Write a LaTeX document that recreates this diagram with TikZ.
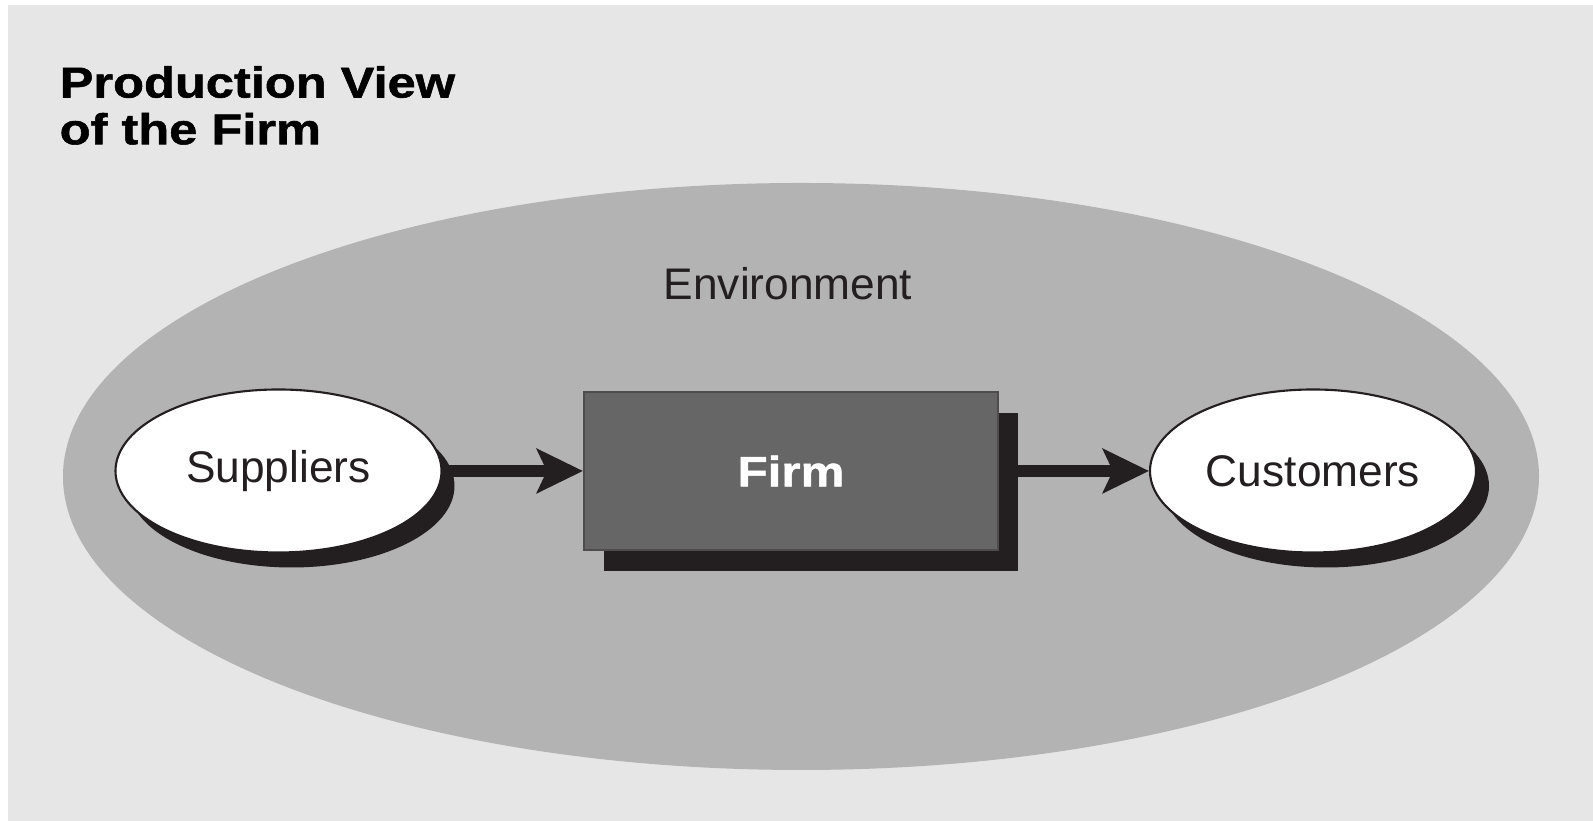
\documentclass[tikz,border=0pt]{standalone}
\usepackage{fontspec}
\setmainfont{Liberation Sans}
\newfontfamily\headfont[FakeStretch=1.17,BoldFeatures={FakeBold=1.2}]{Liberation Sans}
\usetikzlibrary{arrows.meta,shadows,shapes.geometric}

\definecolor{paper}{RGB}{230,230,230}
\definecolor{envgray}{RGB}{179,179,179}
\definecolor{firmgray}{RGB}{102,102,102}
\definecolor{ink}{RGB}{35,31,32}

\tikzset{
	party/.style={ellipse,draw=ink,line width=0.6pt,fill=white,text=ink,
		minimum width=3.26cm,minimum height=1.63cm,inner sep=0pt,
		font=\fontsize{12.6}{14}\selectfont,
		drop shadow={shadow xshift=0.13cm,shadow yshift=-0.15cm,fill=ink,opacity=1}},
	flow/.style={draw=ink,line width=0.12cm,
		-{Stealth[length=0.46cm,width=0.44cm,inset=0.1cm]}}
}

\begin{document}
\begin{tikzpicture}
	\useasboundingbox (0,0) rectangle (15.93,8.21);
	\fill[paper] (0.08,0) rectangle (15.93,8.16);
	\fill[envgray] (8.01,3.445) ellipse (7.38 and 2.935);
	% title and environment label
	\node[anchor=north west,inner sep=0pt,align=left,text=black,
		font=\headfont\bfseries\fontsize{12.3}{13.3}\selectfont] (title) at (0.59,7.555)
		{Production View\\of the Firm};
	\node[text=ink,font=\fontsize{12.6}{14}\selectfont] (env) at (7.88,5.375) {Environment};
	% the firm and its neighbours
	\node[rectangle,draw=ink!80,line width=0.6pt,fill=firmgray,text=white,
		minimum width=4.14cm,minimum height=1.58cm,
		font=\headfont\bfseries\fontsize{12}{14}\selectfont,
		drop shadow={shadow xshift=0.2cm,shadow yshift=-0.21cm,fill=ink,opacity=1}]
		(firm) at (7.91,3.5) {Firm};
	\node[party] (sup) at (2.785,3.5) {Suppliers};
	\node[party] (cust) at (13.13,3.5) {Customers};
	\draw[flow] (sup.east) -- (firm.west);
	\draw[flow] (firm.east) -- (cust.west);
\end{tikzpicture}
\end{document}
